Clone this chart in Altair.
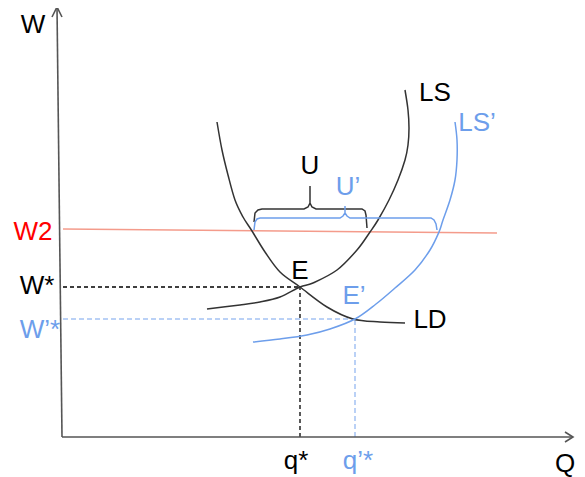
import altair as alt
import pandas as pd

# ---- data (Q = quantity units, W = wage units) ----
LD_Q = [155, 160, 166, 173, 181, 190, 203, 218, 238, 265, 291, 318, 343]
LD_W = [315, 287, 262, 237, 220, 206, 185, 165, 150, 130, 118, 115, 114]

LS_Q = [343, 346, 347, 346, 343, 336, 327, 316, 308, 295, 275, 251, 238, 218, 198, 178, 145]
LS_W = [347, 327, 309, 292, 277, 257, 237, 217, 205, 187, 167, 154, 150, 140, 135, 132, 128]

LS2_Q = [393, 395, 395, 393, 388, 381, 377, 368, 353, 333, 314, 293, 268, 245, 218, 191]
LS2_W = [315, 297, 277, 257, 237, 217, 205, 187, 167, 149, 133, 118, 108, 102, 98, 95]

W2_Q = [1, 435]
W2_W = [208, 204]

E = (238, 150)
E2 = (293, 118)

U_Q = [192, 193, 196, 200, 242, 246, 248, 248, 248, 250, 254, 300, 303, 304, 305]
U_W = [215, 224, 227, 228, 228, 230, 234, 251, 234, 230, 228, 228, 226, 222, 209]

U2_Q = [192, 193, 195, 198, 278, 281, 283, 283, 283, 285, 288, 369, 372, 374, 375]
U2_W = [207, 215, 218, 219, 219, 221, 224, 231, 224, 221, 219, 219, 217, 213, 207]

YAX_Q = [0, -5]
YAX_W = [0, 430]
YARR_Q = [-10, -5, 0]
YARR_W = [420, 430, 420]
XAX_Q = [0, 511]
XAX_W = [0, 0]
XARR_Q = [503, 511, 503]
XARR_W = [5, 0, -5]

LBL_TEXT = ["W", "W2", "W*", "W’*", "q*", "q’*", "Q", "E", "E’", "LD", "LS", "LS’", "U", "U’"]
LBL_Q = [-29, -29, -25, -22, 234, 296, 503, 238, 292, 368, 373, 415, 248, 286]
LBL_W = [412, 205, 151, 107, -24, -24, -27, 166, 141, 117, 344, 314, 271, 250]
LBL_COLOR = ["black", "red", "black", "blue", "black", "blue", "black", "black", "blue",
             "black", "black", "blue", "black", "blue"]

BLACK = "#333333"
BLUE = "#6d9eeb"
LIGHTBLUE = "#a4c2f4"
RED_LINE = "#f49b8b"
AXIS = "#555555"

xs = alt.Scale(domain=[-54, 515], nice=False, zero=False)
ys = alt.Scale(domain=[-32, 429], nice=False, zero=False)


def line(qs, ws, color, width=1.5, dash=None, interp="linear"):
    df = pd.DataFrame({"Q": qs, "W": ws, "o": list(range(len(qs)))})
    kw = dict(color=color, strokeWidth=width, interpolate=interp)
    if dash:
        kw["strokeDash"] = dash
    return alt.Chart(df).mark_line(**kw).encode(
        x=alt.X("Q:Q", scale=xs, axis=None),
        y=alt.Y("W:Q", scale=ys, axis=None),
        order="o:Q",
    )


layers = [
    line(W2_Q, W2_W, RED_LINE, 1.5),
    line([1, E[0]], [E[1], E[1]], "black", 1.3, [4, 3]),
    line([E[0], E[0]], [0, E[1]], "black", 1.3, [4, 3]),
    line([1, E2[0]], [E2[1], E2[1]], LIGHTBLUE, 1.5, [5, 3]),
    line([E2[0], E2[0]], [0, E2[1]], LIGHTBLUE, 1.5, [5, 3]),
    line(LD_Q, LD_W, BLACK, 1.5, interp="cardinal"),
    line(LS_Q, LS_W, BLACK, 1.5, interp="cardinal"),
    line(LS2_Q, LS2_W, BLUE, 1.5, interp="cardinal"),
    line(U_Q, U_W, BLACK, 1.5),
    line(U2_Q, U2_W, BLUE, 1.5),
    line(YAX_Q, YAX_W, AXIS, 1.6),
    line(YARR_Q, YARR_W, AXIS, 1.6),
    line(XAX_Q, XAX_W, AXIS, 1.6),
    line(XARR_Q, XARR_W, AXIS, 1.6),
]

lbl = pd.DataFrame({"t": LBL_TEXT, "Q": LBL_Q, "W": LBL_W, "c": LBL_COLOR})
text = alt.Chart(lbl).mark_text(
    font="Liberation Sans", fontSize=26, align="center", baseline="middle"
).encode(
    x=alt.X("Q:Q", scale=xs, axis=None),
    y=alt.Y("W:Q", scale=ys, axis=None),
    text="t:N",
    color=alt.Color("c:N", scale=alt.Scale(domain=["black", "red", "blue"],
                                           range=["#000000", "#ff0000", BLUE]),
                    legend=None),
)

chart = alt.layer(*layers, text).properties(
    width=569, height=461,
    padding={"left": 0, "top": 0, "right": 0, "bottom": 8},
    autosize=alt.AutoSizeParams(type="none"),
).configure_view(stroke=None)

chart.save("out.html", embed_options={"renderer": "svg", "actions": False})
